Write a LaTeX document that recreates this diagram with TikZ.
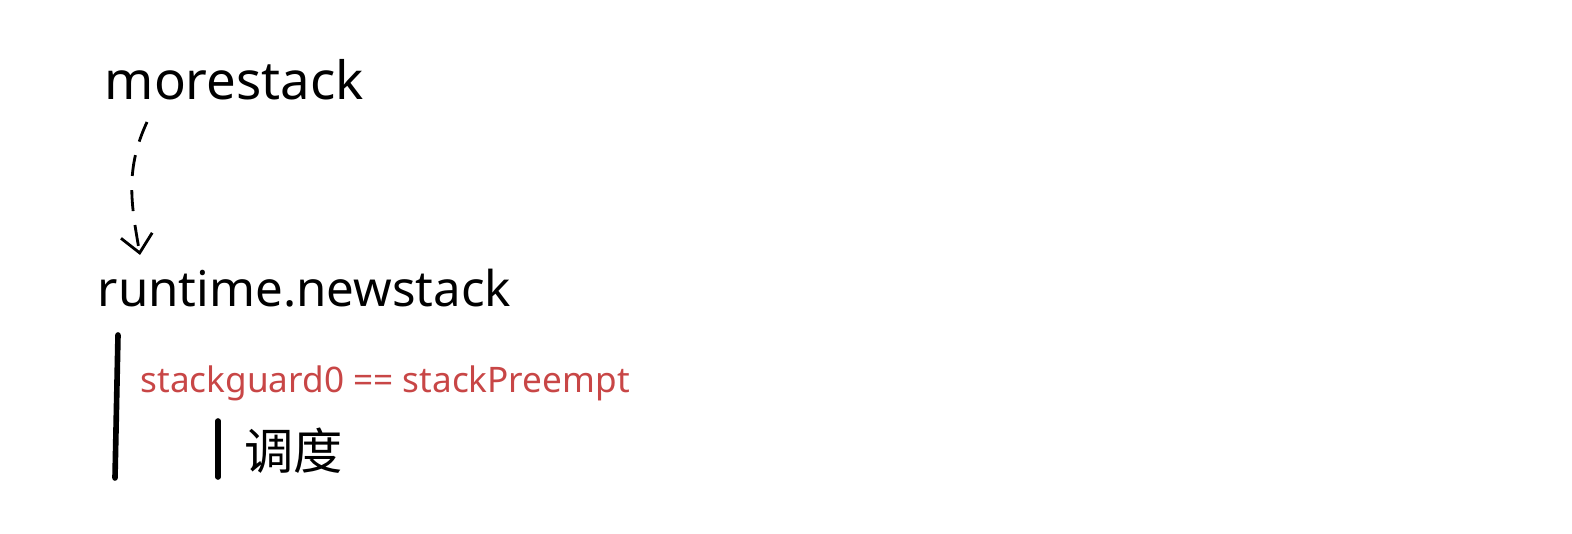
\documentclass[tikz,border=0pt]{standalone}
\usepackage{fontspec}
\setmainfont{Noto Sans}
\newfontfamily\cjk{Noto Sans CJK SC}
\usepackage{tikz}
\usetikzlibrary{arrows.meta,positioning}
\definecolor{guardred}{RGB}{200,70,70}

\begin{document}
\begin{tikzpicture}[x=0.01cm,y=-0.01cm,
    call/.style={anchor=base west,inner sep=0pt,font=\fontsize{15}{18}\selectfont},
    cond/.style={anchor=base west,inner sep=0pt,text=guardred,font=\fontsize{10}{12}\selectfont},
    bar/.style={line width=1.6pt,line cap=round}]
  \useasboundingbox (0,0) rectangle (1572,534);
  \node[call] (more) at (104,100) {morestack};
  \node[call,font=\fontsize{14}{17}\selectfont] (newstack) at (97,307) {runtime.newstack};
  \node[cond] (guard) at (140,393) {stackguard0 == stackPreempt};
  \node[anchor=base west,inner sep=0pt,font=\cjk\fontsize{14}{16}\selectfont] (sched) at (244,470) {调度};
  % dashed call
  \draw[dash pattern=on 6pt off 4pt,line width=0.8pt,-{Straight Barb[length=5pt,width=9pt]}]
    ([xshift=0.43cm,yshift=-0.22cm]more.base west) to[out=245,in=100]
    ([xshift=0.43cm,yshift=0.52cm]newstack.base west);
  % branches
  \coordinate (b1top) at (118,335);
  \coordinate (b1bot) at (115,478);
  \coordinate (b2top) at (218,421);
  \coordinate (b2bot) at (218,477);
  \draw[bar] (b1top) -- (b1bot);
  \draw[bar] (b2top) -- (b2bot);
\end{tikzpicture}
\end{document}
